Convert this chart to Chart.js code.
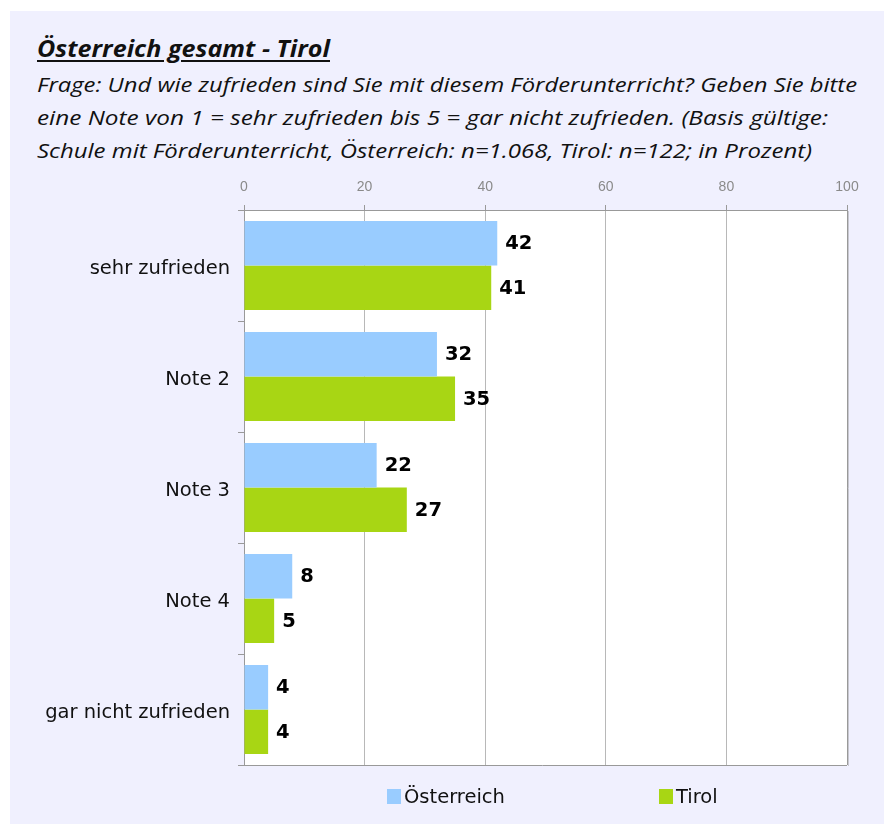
<!DOCTYPE html>
<html>
<head>
<meta charset="utf-8">
<script src="https://cdn.jsdelivr.net/npm/chart.js@4"></script>
<style>
  html, body { margin: 0; padding: 0; background: #ffffff; }
  body { width: 884px; height: 824px; position: relative; overflow: hidden; }
  #panel { position: absolute; left: 10px; top: 11px; width: 874px; height: 813px; background: #f0f0fe; }
  #chartWrap { position: absolute; left: 0; top: 0; width: 884px; height: 824px; }
  .txt { position: absolute; white-space: nowrap; color: #111; font-family: "Open Sans", "Noto Sans", sans-serif; font-style: italic; transform-origin: 0 50%; }
  #title { left: 37px; top: 32px; font-size: 23px; font-weight: 700; text-decoration: underline; text-underline-offset: 3px; }
  .sub { left: 37px; font-size: 20px; }
  #legend { position: absolute; top: 784px; left: 0; font-family: "DejaVu Sans", sans-serif; font-size: 19.5px; color: #111; }
  .li { position: absolute; white-space: nowrap; display: flex; align-items: center; height: 24px; }
  .sw { width: 14px; height: 15px; display: inline-block; margin-right: 3px; }
</style>
</head>
<body>
<div id="panel"></div>
<div class="txt" id="title" data-w="293">Österreich gesamt - Tirol</div>
<div class="txt sub" id="s1" style="top:71px" data-w="820">Frage: Und wie zufrieden sind Sie mit diesem Förderunterricht? Geben Sie bitte</div>
<div class="txt sub" id="s2" style="top:104px" data-w="791">eine Note von 1 = sehr zufrieden bis 5 = gar nicht zufrieden. (Basis gültige:</div>
<div class="txt sub" id="s3" style="top:137px" data-w="775">Schule mit Förderunterricht, Österreich: n=1.068, Tirol: n=122; in Prozent)</div>
<div id="chartWrap"><canvas id="c" width="884" height="824"></canvas></div>
<div id="legend"></div>
<script>
const categories = ["sehr zufrieden", "Note 2", "Note 3", "Note 4", "gar nicht zufrieden"];
const seriesNames = ["Österreich", "Tirol"];
const oesterreich = [42, 32, 22, 8, 4];
const tirol = [41, 35, 27, 5, 4];
const xTicks = [0, 20, 40, 60, 80, 100];
const seriesColors = ["#99ccff", "#a8d614"];

// fit header text widths
document.querySelectorAll('.txt').forEach(el => {
  const target = parseFloat(el.dataset.w);
  const w = el.getBoundingClientRect().width;
  el.style.transform = 'scaleX(' + (target / w) + ')';
});

const plotBg = {
  id: 'plotBg',
  beforeDraw(chart) {
    const { ctx, chartArea: a } = chart;
    ctx.save();
    ctx.fillStyle = '#ffffff';
    ctx.fillRect(a.left, a.top, a.right - a.left, a.bottom - a.top);
    ctx.restore();
  },
  afterDraw(chart) {
    const { ctx, chartArea: a } = chart;
    ctx.save();
    ctx.strokeStyle = '#999999';
    ctx.lineWidth = 1;
    ctx.beginPath();
    ctx.moveTo(a.left - 6, Math.round(a.bottom) + 0.5);
    ctx.lineTo(a.right, Math.round(a.bottom) + 0.5);
    ctx.moveTo(Math.round(a.right) + 0.5, a.top);
    ctx.lineTo(Math.round(a.right) + 0.5, a.bottom);
    ctx.stroke();
    ctx.strokeStyle = '#c8c8d0';
    ctx.beginPath();
    ctx.moveTo(Math.round(a.right) + 1.5, a.top + 1);
    ctx.lineTo(Math.round(a.right) + 1.5, a.bottom + 1);
    ctx.stroke();
    ctx.restore();
  }
};

const valueLabels = {
  id: 'valueLabels',
  afterDatasetsDraw(chart) {
    const { ctx } = chart;
    ctx.save();
    ctx.font = 'bold 19.5px "DejaVu Sans", sans-serif';
    ctx.fillStyle = '#000';
    ctx.textBaseline = 'middle';
    ctx.textAlign = 'left';
    chart.data.datasets.forEach((ds, i) => {
      chart.getDatasetMeta(i).data.forEach((bar, j) => {
        ctx.fillText(String(ds.data[j]), bar.x + 8, bar.y + 1);
      });
    });
    ctx.restore();
  }
};

const chart = new Chart(document.getElementById('c'), {
  type: 'bar',
  data: {
    labels: categories,
    datasets: [
      { label: seriesNames[0], data: oesterreich, backgroundColor: seriesColors[0], categoryPercentage: 0.8, barPercentage: 1.0 },
      { label: seriesNames[1], data: tirol, backgroundColor: seriesColors[1], categoryPercentage: 0.8, barPercentage: 1.0 }
    ]
  },
  options: {
    indexAxis: 'y',
    responsive: false,
    animation: false,
    layout: { padding: { left: 0, top: 165, right: 37, bottom: 59 } },
    plugins: { legend: { display: false }, tooltip: { enabled: false }, title: { display: false } },
    scales: {
      x: {
        position: 'top',
        min: 0, max: 100,
        afterBuildTicks(scale) { scale.ticks = xTicks.map(v => ({ value: v })); },
        afterFit(scale) { scale.height = 45; },
        ticks: { color: '#8a8a8a', font: { family: '"Liberation Sans", Arial, sans-serif', size: 14 }, padding: 9, maxRotation: 0 },
        grid: { color: '#b8b8b8', tickLength: 5, drawTicks: true, tickColor: '#999999' },
        border: { color: '#999999' }
      },
      y: {
        afterFit(scale) { scale.width = 244; },
        ticks: { color: '#111111', font: { family: '"DejaVu Sans", sans-serif', size: 19.5 }, padding: 8, labelOffset: 3 },
        grid: { drawOnChartArea: false, drawTicks: true, tickLength: 6, offset: true, color: '#999999' },
        border: { color: '#999999' }
      }
    }
  },
  plugins: [plotBg, valueLabels]
});

// legend (HTML)
const legend = document.getElementById('legend');
const legendX = [387, 659];
seriesNames.forEach((n, i) => {
  const d = document.createElement('div');
  d.className = 'li';
  d.style.left = legendX[i] + 'px';
  d.innerHTML = '<span class="sw" style="background:' + seriesColors[i] + '"></span><span>' + n + '</span>';
  legend.appendChild(d);
});
</script>
</body>
</html>
